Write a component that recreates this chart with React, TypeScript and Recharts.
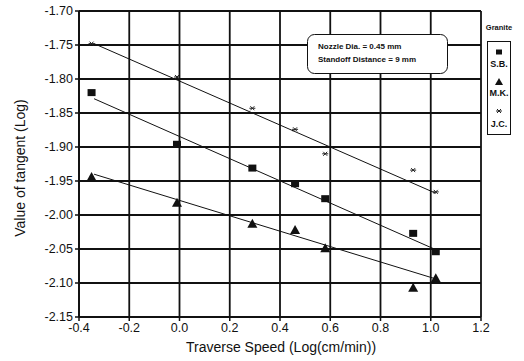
import { ComposedChart, Scatter, Line, XAxis, YAxis, ReferenceLine } from "recharts"

// Log traverse speed for each granite
const speedSB = [-0.35, -0.01, 0.29, 0.46, 0.58, 0.93, 1.02]
const speedMK = [-0.35, -0.01, 0.29, 0.46, 0.58, 0.93, 1.02]
const speedJC = [-0.35, -0.01, 0.29, 0.46, 0.58, 0.93, 1.02]

// Log value of tangent
const tangentSB = [-1.82, -1.896, -1.931, -1.954, -1.976, -2.027, -2.054]
const tangentMK = [-1.944, -1.982, -2.013, -2.022, -2.049, -2.107, -2.093]
const tangentJC = [-1.748, -1.797, -1.843, -1.874, -1.91, -1.934, -1.966]

// fitted lines (end points)
const fitSpeed = [-0.34, 1.02]
const fitSB = [-1.829, -2.051]
const fitMK = [-1.94, -2.094]
const fitJC = [-1.748, -1.968]

const xTicks = [-0.4, -0.2, 0, 0.2, 0.4, 0.6, 0.8, 1.0, 1.2]
const yTicks = [-1.7, -1.75, -1.8, -1.85, -1.9, -1.95, -2.0, -2.05, -2.1, -2.15]

const FONT = "'Liberation Sans', Arial, sans-serif"

const toPoints = (xs: number[], ys: number[]) => xs.map((x, i) => ({ x, y: ys[i] }))

const Square = (p: any) => {
  const w = p.small ? 6 : 8
  const h = p.small ? 5 : 7
  return <rect x={p.cx - w / 2} y={p.cy - h / 2} width={w} height={h} fill="#111" />
}
const Triangle = (p: any) => {
  const s = p.small ? 4 : 5
  return <polygon points={`${p.cx},${p.cy - s} ${p.cx + s},${p.cy + s - 1} ${p.cx - s},${p.cy + s - 1}`} fill="#111" />
}
const Star = (p: any) => (
  <g stroke="#222" strokeWidth={1}>
    <line x1={p.cx - 3} y1={p.cy} x2={p.cx + 3} y2={p.cy} />
    <line x1={p.cx - 2} y1={p.cy - 2} x2={p.cx + 2} y2={p.cy + 2} />
    <line x1={p.cx - 2} y1={p.cy + 2} x2={p.cx + 2} y2={p.cy - 2} />
  </g>
)

// grid line placed by the axis scale, drawn dark like the scanned original
const GridLine = (p: any) => <line x1={p.x1} y1={p.y1} x2={p.x2} y2={p.y2} stroke="#111" strokeWidth={1.8} />

export default function App() {
  return (
    <div style={{ position: "absolute", left: 0, top: 0, width: 524, height: 361, background: "#fff", fontFamily: FONT }}>
      <ComposedChart width={524} height={361} margin={{ top: 11, right: 43, bottom: 14, left: 29 }}>
        <XAxis
          type="number"
          dataKey="x"
          domain={[-0.4, 1.2]}
          ticks={xTicks}
          tickFormatter={(v: number) => v.toFixed(1)}
          height={30}
          axisLine={{ stroke: "#111", strokeWidth: 1.8 }}
          tickLine={{ stroke: "#111", strokeWidth: 1.5 }}
          tickSize={4}
          tick={{ fill: "#111", fontSize: 12.5, fontFamily: FONT }}
          allowDataOverflow
        />
        <YAxis
          type="number"
          domain={[-2.15, -1.7]}
          ticks={yTicks}
          tickFormatter={(v: number) => v.toFixed(2)}
          width={50}
          axisLine={{ stroke: "#111", strokeWidth: 1.8 }}
          tickLine={{ stroke: "#111", strokeWidth: 1.5 }}
          tickSize={4}
          tick={{ fill: "#111", fontSize: 12.5, fontFamily: FONT }}
          allowDataOverflow
        />
        {yTicks.map((v) => (
          <ReferenceLine key={`h${v}`} y={v} shape={GridLine} />
        ))}
        {xTicks.map((v) => (
          <ReferenceLine key={`v${v}`} x={v} shape={GridLine} />
        ))}
        <Line data={toPoints(fitSpeed, fitSB)} dataKey="y" stroke="#111" strokeWidth={1} dot={false} isAnimationActive={false} />
        <Line data={toPoints(fitSpeed, fitMK)} dataKey="y" stroke="#111" strokeWidth={1} dot={false} isAnimationActive={false} />
        <Line data={toPoints(fitSpeed, fitJC)} dataKey="y" stroke="#111" strokeWidth={1} dot={false} isAnimationActive={false} />
        <Scatter name="S.B." data={toPoints(speedSB, tangentSB)} dataKey="y" shape={Square} isAnimationActive={false} />
        <Scatter name="M.K." data={toPoints(speedMK, tangentMK)} dataKey="y" shape={Triangle} isAnimationActive={false} />
        <Scatter name="J.C." data={toPoints(speedJC, tangentJC)} dataKey="y" shape={Star} isAnimationActive={false} />
      </ComposedChart>

      <svg width={524} height={361} style={{ position: "absolute", left: 0, top: 0, pointerEvents: "none" }}>
        {/* axis titles */}
        <text x={20} y={168} transform="rotate(-90 20 168)" textAnchor="middle" dominantBaseline="central" fontSize={14} fill="#111" fontFamily={FONT}>
          Value of tangent (Log)
        </text>
        <text x={281} y={347} textAnchor="middle" dominantBaseline="central" fontSize={14} fill="#111" fontFamily={FONT}>
          Traverse Speed (Log(cm/min))
        </text>

        {/* note box */}
        <rect x={307.5} y={34.5} width={140} height={39} rx={7} fill="#fff" stroke="#111" strokeWidth={1} />
        <text x={318} y={49} fontSize={8} fontWeight="bold" fill="#111" fontFamily={FONT}>Nozzle Dia. = 0.45 mm</text>
        <text x={318} y={62} fontSize={8} fontWeight="bold" fill="#111" fontFamily={FONT}>Standoff Distance = 9 mm</text>

        {/* legend */}
        <text x={499} y={30} textAnchor="middle" fontSize={7.5} fontWeight="bold" fill="#111" fontFamily={FONT}>Granite</text>
        <rect x={487.5} y={41.5} width={23} height={93} fill="#fff" stroke="#111" strokeWidth={1} />
        <Square cx={499} cy={52} small />
        <text x={499} y={67} textAnchor="middle" fontSize={9} fontWeight="bold" fill="#111" fontFamily={FONT}>S.B.</text>
        <Triangle cx={499} cy={82} small />
        <text x={499} y={96} textAnchor="middle" fontSize={9} fontWeight="bold" fill="#111" fontFamily={FONT}>M.K.</text>
        <Star cx={499} cy={111} />
        <text x={499} y={127} textAnchor="middle" fontSize={9} fontWeight="bold" fill="#111" fontFamily={FONT}>J.C.</text>
      </svg>
    </div>
  )
}
